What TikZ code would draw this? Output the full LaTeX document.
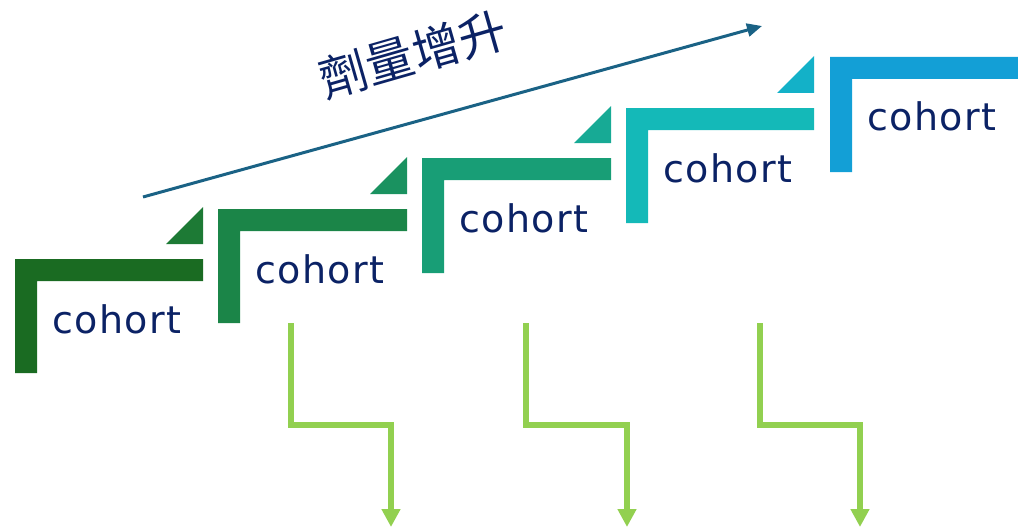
\documentclass[tikz,border=0pt]{standalone}
\usepackage{fontspec}
\setmainfont{DejaVu Sans}
\newfontfamily\cjk{Noto Sans CJK TC}
\newfontfamily\cohortfont[LetterSpace=4]{DejaVu Sans}
\usetikzlibrary{arrows.meta}
\definecolor{sa}{HTML}{1A6B22}
\definecolor{sb}{HTML}{1B8548}
\definecolor{sc}{HTML}{189E76}
\definecolor{sd}{HTML}{14B9B8}
\definecolor{se}{HTML}{139FD6}
\definecolor{ta}{HTML}{1D7A35}
\definecolor{tb}{HTML}{1A9260}
\definecolor{tc}{HTML}{17AA95}
\definecolor{td}{HTML}{13B1C8}
\definecolor{navy}{HTML}{0B2265}
\definecolor{steel}{HTML}{1A6285}
\definecolor{lgreen}{HTML}{92D050}
\tikzset{
  cohortlabel/.style={anchor=base west, inner sep=0pt, text=navy,
    font=\cohortfont\fontsize{38}{40}\selectfont},
  dosearrow/.style={draw=steel, line width=3pt, -{Triangle[length=15pt,width=13pt]}},
  steparrow/.style={draw=lgreen, line width=5.5pt, miter limit=10,
    -{Triangle[length=18pt,width=18pt]}}
}
\begin{document}
\begin{tikzpicture}[x=1pt,y=-1pt]
\useasboundingbox (0,0) rectangle (1018,527);
% cohort brackets
\foreach \L/\T/\R/\B/\col/\n in {15/259/203/373/sa/1, 218/209/407/323/sb/2, 422/158/611/273/sc/3, 626/108/814/223/sd/4, 830/57/1018/172/se/5}{
  \fill[\col] (\L,\T) -- (\R,\T) -- (\R,\T+22) -- (\L+22,\T+22) -- (\L+22,\B) -- (\L,\B) -- cycle;
  \node[cohortlabel] (c\n) at (\L+37,\T+74) {cohort};
}
% triangles
\foreach \R/\T/\col in {203/259/ta, 407/209/tb, 611/158/tc, 814/108/td}{
  \fill[\col] (\R,\T-15) -- (\R-37,\T-15) -- (\R,\T-52) -- cycle;
}
% dose escalation arrow
\coordinate (ds) at (143,197);
\coordinate (de) at (762,26);
\draw[dosearrow] (ds) -- (de);
\node[text=navy, font=\cjk\fontsize{48}{52}\selectfont, rotate=16, inner sep=0pt] (dose) at (413,54) {劑量增升};
% step arrows
\foreach \a/\b/\n in {291/391/1, 526/627/2, 760/860/3}{
  \coordinate (s\n) at (\a,323);
  \coordinate (e\n) at (\b,527);
  \draw[steparrow] (s\n) |- (\b,425) -- (e\n);
}
\end{tikzpicture}
\end{document}
